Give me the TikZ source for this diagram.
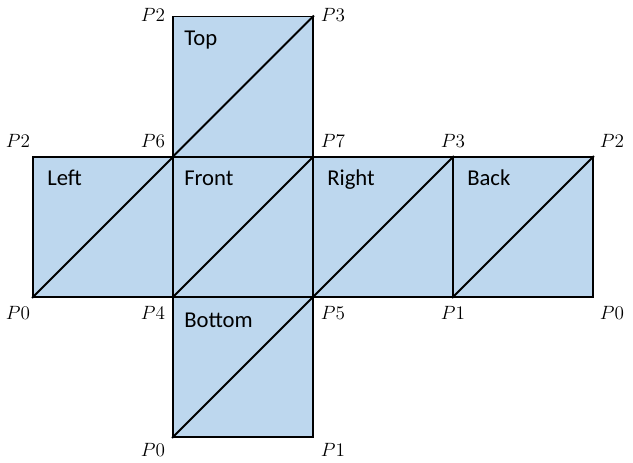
\documentclass[tikz,border=0pt]{standalone}
\usepackage{fontspec}
\setmainfont{Carlito}
\begin{document}
\begin{tikzpicture}[x=0.75pt,y=-0.75pt,
  face/.style={draw=black,line width=1.4pt,fill=facecol,rectangle,minimum width=105pt,minimum height=105pt,inner sep=0pt},
  diag/.style={line width=1.4pt,draw=black},
  facename/.style={anchor=base west,inner sep=0pt,font=\fontsize{17}{20}\selectfont},
  pt/.style={inner sep=0pt,font=\fontsize{14.5}{17}\selectfont}]
\definecolor{facecol}{HTML}{BDD7EE}
\useasboundingbox (0,0) rectangle (633,462);
\node[face] (top) at (243,86.5) {};
\node[face] (left) at (103,227) {};
\node[face] (front) at (243,227) {};
\node[face] (right) at (383,227) {};
\node[face] (back) at (523,227) {};
\node[face] (bottom) at (243,367) {};
\foreach \f in {top,left,front,right,back,bottom}
  \draw[diag] (\f.south west) -- (\f.north east);
\node[facename] (ttop) at (184,45) {Top};
\node[facename] (tleft) at (47,185) {Left};
\node[facename] (tfront) at (184,185) {Front};
\node[facename] (tright) at (327,185) {Right};
\node[facename] (tback) at (467,185) {Back};
\node[facename] (tbottom) at (184,327) {Bottom};
\node[pt] (a1) at (153,15) {$P2$};
\node[pt] (a2) at (333,15) {$P3$};
\node[pt] (b1) at (18,141) {$P2$};
\node[pt] (b2) at (153,141) {$P6$};
\node[pt] (b3) at (333,141) {$P7$};
\node[pt] (b4) at (453,141) {$P3$};
\node[pt] (b5) at (612,141) {$P2$};
\node[pt] (c1) at (18,313) {$P0$};
\node[pt] (c2) at (153,313) {$P4$};
\node[pt] (c3) at (333,313) {$P5$};
\node[pt] (c4) at (453,313) {$P1$};
\node[pt] (c5) at (612,313) {$P0$};
\node[pt] (d1) at (153,450) {$P0$};
\node[pt] (d2) at (333,450) {$P1$};
\end{tikzpicture}
\end{document}
